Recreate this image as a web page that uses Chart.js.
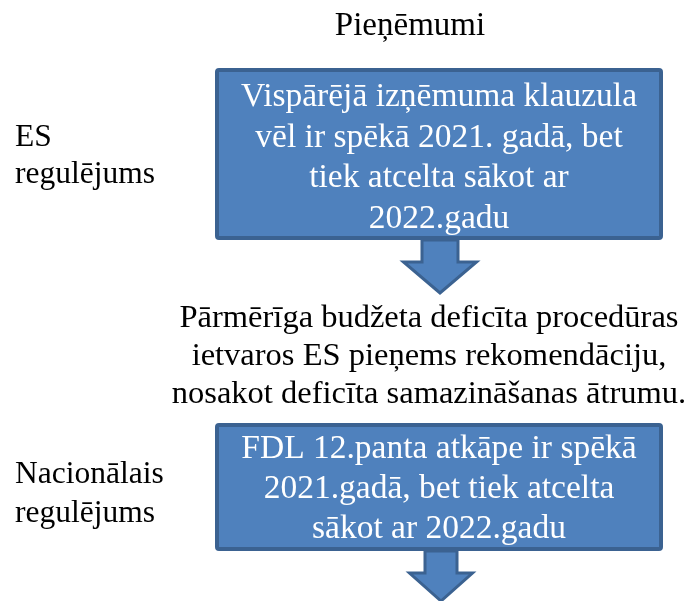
<!DOCTYPE html>
<html>
<head>
<meta charset="utf-8">
<script src="https://cdn.jsdelivr.net/npm/chart.js@4/dist/chart.umd.min.js"></script>
<style>
  html, body { margin: 0; padding: 0; background: #ffffff; }
  #wrap { width: 688px; height: 601px; }
</style>
</head>
<body>
<div id="wrap"><canvas id="c" width="688" height="601"></canvas></div>
<script>
// ---- content ----
const titleText = "Pieņēmumi";
const rowLabels = [
  ["ES", "regulējums"],
  ["Nacionālais", "regulējums"]
];
const boxTexts = [
  ["Vispārējā izņēmuma klauzula", "vēl ir spēkā 2021. gadā, bet", "tiek atcelta sākot ar", "2022.gadu"],
  ["FDL 12.panta atkāpe ir spēkā", "2021.gadā, bet tiek atcelta", "sākot ar 2022.gadu"]
];
const noteLines = [
  "Pārmērīga budžeta deficīta procedūras",
  "ietvaros ES pieņems rekomendāciju,",
  "nosakot deficīta samazināšanas ātrumu."
];

// ---- layout (canvas units on a 688 x 601 linear scale) ----
const layout = {
  title: { x: 410, y: 35 },
  labels: [{ x: 15, y: 146, dy: 37 }, { x: 15, y: 483, dy: 39 }],
  boxes: [
    { x0: 215, x1: 663, y0: 68, y1: 240, cx: 439, y: 106, dy: 40.7 },
    { x0: 215, x1: 663, y0: 423, y1: 551, cx: 439, y: 458, dy: 40 }
  ],
  arrows: [
    { cx: 440, sw: 36, hw: 73, y0: 240, yh: 262, yt: 293 },
    { cx: 441, sw: 32, hw: 63, y0: 551, yh: 573, yt: 601 }
  ],
  note: { cx: 429, y: 327, dy: 38.2 }
};

const FILL = "#4F81BD";
const EDGE = "#3B6291";

function pickSerif() {
  const cv = document.createElement("canvas").getContext("2d");
  const s = "Vispārējā izņēmuma klauzula WMwmil";
  const base = {};
  ["monospace", "sans-serif"].forEach(b => { cv.font = "40px " + b; base[b] = cv.measureText(s).width; });
  const cands = ["Liberation Serif", "Times New Roman", "Tinos", "DejaVu Serif", "Noto Serif"];
  for (const c of cands) {
    let ok = true;
    for (const b of ["monospace", "sans-serif"]) {
      cv.font = "40px '" + c + "', " + b;
      if (Math.abs(cv.measureText(s).width - base[b]) < 0.01) ok = false;
    }
    if (ok) return "'" + c + "', serif";
  }
  return "serif";
}
const FONT = pickSerif();

const diagramPlugin = {
  id: "diagram",
  afterDatasetsDraw(chart) {
    const ctx = chart.ctx;
    const X = v => chart.scales.x.getPixelForValue(v);
    const Y = v => chart.scales.y.getPixelForValue(v);
    ctx.save();
    ctx.textBaseline = "alphabetic";

    layout.arrows.forEach(a => {
      ctx.beginPath();
      ctx.moveTo(X(a.cx - a.sw / 2), Y(a.y0));
      ctx.lineTo(X(a.cx + a.sw / 2), Y(a.y0));
      ctx.lineTo(X(a.cx + a.sw / 2), Y(a.yh));
      ctx.lineTo(X(a.cx + a.hw / 2), Y(a.yh));
      ctx.lineTo(X(a.cx), Y(a.yt));
      ctx.lineTo(X(a.cx - a.hw / 2), Y(a.yh));
      ctx.lineTo(X(a.cx - a.sw / 2), Y(a.yh));
      ctx.closePath();
      ctx.fillStyle = FILL;
      ctx.fill();
      ctx.lineWidth = 3;
      ctx.lineJoin = "miter";
      ctx.strokeStyle = EDGE;
      ctx.stroke();
    });

    layout.boxes.forEach((b, i) => {
      const lw = 4;
      const x0 = X(b.x0) + lw / 2, x1 = X(b.x1) - lw / 2;
      const y0 = Y(b.y0) + lw / 2, y1 = Y(b.y1) - lw / 2;
      ctx.beginPath();
      if (ctx.roundRect) ctx.roundRect(x0, y0, x1 - x0, y1 - y0, 2);
      else ctx.rect(x0, y0, x1 - x0, y1 - y0);
      ctx.fillStyle = FILL;
      ctx.fill();
      ctx.lineWidth = lw;
      ctx.strokeStyle = EDGE;
      ctx.stroke();
      ctx.fillStyle = "#ffffff";
      ctx.font = "33.5px " + FONT;
      ctx.textAlign = "center";
      boxTexts[i].forEach((t, k) => ctx.fillText(t, X(b.cx), Y(b.y + k * b.dy)));
    });

    ctx.fillStyle = "#000000";
    ctx.textAlign = "center";
    ctx.font = "33px " + FONT;
    ctx.fillText(titleText, X(layout.title.x), Y(layout.title.y));

    ctx.textAlign = "left";
    ctx.font = "31.5px " + FONT;
    rowLabels.forEach((lines, i) => {
      const L = layout.labels[i];
      lines.forEach((t, k) => ctx.fillText(t, X(L.x), Y(L.y + k * L.dy)));
    });

    ctx.textAlign = "center";
    ctx.font = "32.5px " + FONT;
    noteLines.forEach((t, k) => ctx.fillText(t, X(layout.note.cx), Y(layout.note.y + k * layout.note.dy)));

    ctx.restore();
  }
};

new Chart(document.getElementById("c"), {
  type: "scatter",
  data: { datasets: [{ data: [], pointRadius: 0 }] },
  options: {
    responsive: false,
    animation: false,
    layout: { padding: 0 },
    plugins: { legend: { display: false }, tooltip: { enabled: false } },
    scales: {
      x: { type: "linear", min: 0, max: 688, display: false },
      y: { type: "linear", min: 0, max: 601, reverse: true, display: false }
    }
  },
  plugins: [diagramPlugin]
});
</script>
</body>
</html>
